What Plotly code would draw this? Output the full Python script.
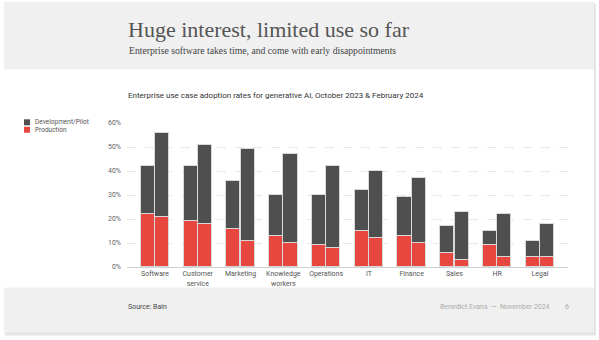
import plotly.graph_objects as go

categories = ["Software", "Customer<br>service", "Marketing", "Knowledge<br>workers", "Operations",
              "IT", "Finance", "Sales", "HR", "Legal"]
# Totals (Development/Pilot + Production), % of enterprises
total_oct23 = [42, 42, 36, 30, 30, 32, 29, 17, 15, 11]
total_feb24 = [56, 51, 49, 47, 42, 40, 37, 23, 22, 18]
prod_oct23 = [22, 19, 16, 13, 9, 15, 13, 6, 9, 4]
prod_feb24 = [21, 18, 11, 10, 8, 12, 10, 3, 4, 4]
y_ticks = [0, 10, 20, 30, 40, 50, 60]
y_ticktext = ["0%", "10%", "20%", "30%", "40%", "50%", "60%"]

dev_oct23 = [t - p for t, p in zip(total_oct23, prod_oct23)]
dev_feb24 = [t - p for t, p in zip(total_feb24, prod_feb24)]

RED = "#e8473f"
DARK = "#4f4f4f"
EDGE = "#d9d9d9"

W_PX, H_PX = 599, 340
L, R, T, B = 127, 568, 122.7, 267.3
PW, PH = R - L, B - T


def px(x):
    return (x - L) / PW


def py(y):
    return (B - y) / PH


idx = list(range(len(categories)))
off = 0.168
bw = 0.33
x_oct = [i - off for i in idx]
x_feb = [i + off for i in idx]

fig = go.Figure()
for xs, prod, dev in [(x_oct, prod_oct23, dev_oct23), (x_feb, prod_feb24, dev_feb24)]:
    fig.add_trace(go.Bar(x=xs, y=prod, width=bw, name="Production", marker=dict(color=RED, line=dict(color=EDGE, width=1)),
                         showlegend=False, hoverinfo="skip"))
    fig.add_trace(go.Bar(x=xs, y=dev, width=bw, name="Development/Pilot", marker=dict(color=DARK, line=dict(color=EDGE, width=1)),
                         showlegend=False, hoverinfo="skip"))

shapes = []
# slide shadow
shapes.append(dict(type="rect", xref="paper", yref="paper", x0=px(5), x1=px(596), y0=py(336), y1=py(3),
                   fillcolor="#e4e4e4", line=dict(width=0), layer="below"))
# slide background
shapes.append(dict(type="rect", xref="paper", yref="paper", x0=px(4), x1=px(594), y0=py(333), y1=py(1),
                   fillcolor="#f0f0f0", line=dict(width=0), layer="below"))
# white content panel
shapes.append(dict(type="rect", xref="paper", yref="paper", x0=px(4), x1=px(594), y0=py(288), y1=py(69),
                   fillcolor="#ffffff", line=dict(width=0), layer="below"))
# legend swatches
shapes.append(dict(type="rect", xref="paper", yref="paper", x0=px(24), x1=px(30), y0=py(125), y1=py(119),
                   fillcolor=DARK, line=dict(width=0)))
shapes.append(dict(type="rect", xref="paper", yref="paper", x0=px(24), x1=px(30), y0=py(132.5), y1=py(126.5),
                   fillcolor=RED, line=dict(width=0)))

SANS = "Roboto, Inter, sans-serif"
SERIF = "Liberation Serif, DejaVu Serif, serif"
annotations = [
    dict(text="Huge interest, limited use so far", x=px(126), y=py(29), xanchor="left", yanchor="middle",
         font=dict(family=SERIF, size=22, color="#555555")),
    dict(text="Enterprise software takes time, and come with early disappointments", x=px(127), y=py(50),
         xanchor="left", yanchor="middle", font=dict(family=SERIF, size=9.7, color="#444444")),
    dict(text="Enterprise use case adoption rates for generative AI, October 2023 &amp; February 2024",
         x=px(126), y=py(95.5), xanchor="left", yanchor="middle", font=dict(family=SANS, size=8, color="#333333")),
    dict(text="Development/Pilot", x=px(33), y=py(122), xanchor="left", yanchor="middle",
         font=dict(family=SANS, size=6.5, color="#555555")),
    dict(text="Production", x=px(33), y=py(129.5), xanchor="left", yanchor="middle",
         font=dict(family=SANS, size=6.5, color="#555555")),
    dict(text="Source: Bain", x=px(126), y=py(307), xanchor="left", yanchor="middle",
         font=dict(family=SANS, size=7, color="#444444")),
    dict(text="Benedict Evans  —  November 2024", x=px(552), y=py(307), xanchor="right", yanchor="middle",
         font=dict(family=SANS, size=7, color="#aaaaaa")),
    dict(text="6", x=px(567), y=py(307), xanchor="center", yanchor="middle",
         font=dict(family=SANS, size=7, color="#aaaaaa")),
]
for a in annotations:
    a.update(xref="paper", yref="paper", showarrow=False)

fig.update_layout(
    width=W_PX, height=H_PX,
    margin=dict(l=L, r=W_PX - R, t=T, b=H_PX - B, pad=0),
    barmode="stack",
    bargap=0,
    paper_bgcolor="#ffffff",
    plot_bgcolor="rgba(0,0,0,0)",
    showlegend=False,
    shapes=shapes,
    annotations=annotations,
    xaxis=dict(range=[-0.654, 9.654], tickvals=idx, ticktext=categories, showgrid=False, zeroline=False,
               showline=True, linecolor="#d0d0d0", linewidth=1, ticks="", fixedrange=True,
               tickfont=dict(family=SANS, size=7, color="#555555")),
    yaxis=dict(range=[0, 60], tickvals=y_ticks, ticktext=y_ticktext, showgrid=True, gridcolor="#e8e8e8",
               griddash="dash", gridwidth=1, zeroline=False, showline=False, ticks="",
               ticklabelstandoff=5, tickfont=dict(family=SANS, size=7, color="#666666")),
)

fig.write_html("out.html")
